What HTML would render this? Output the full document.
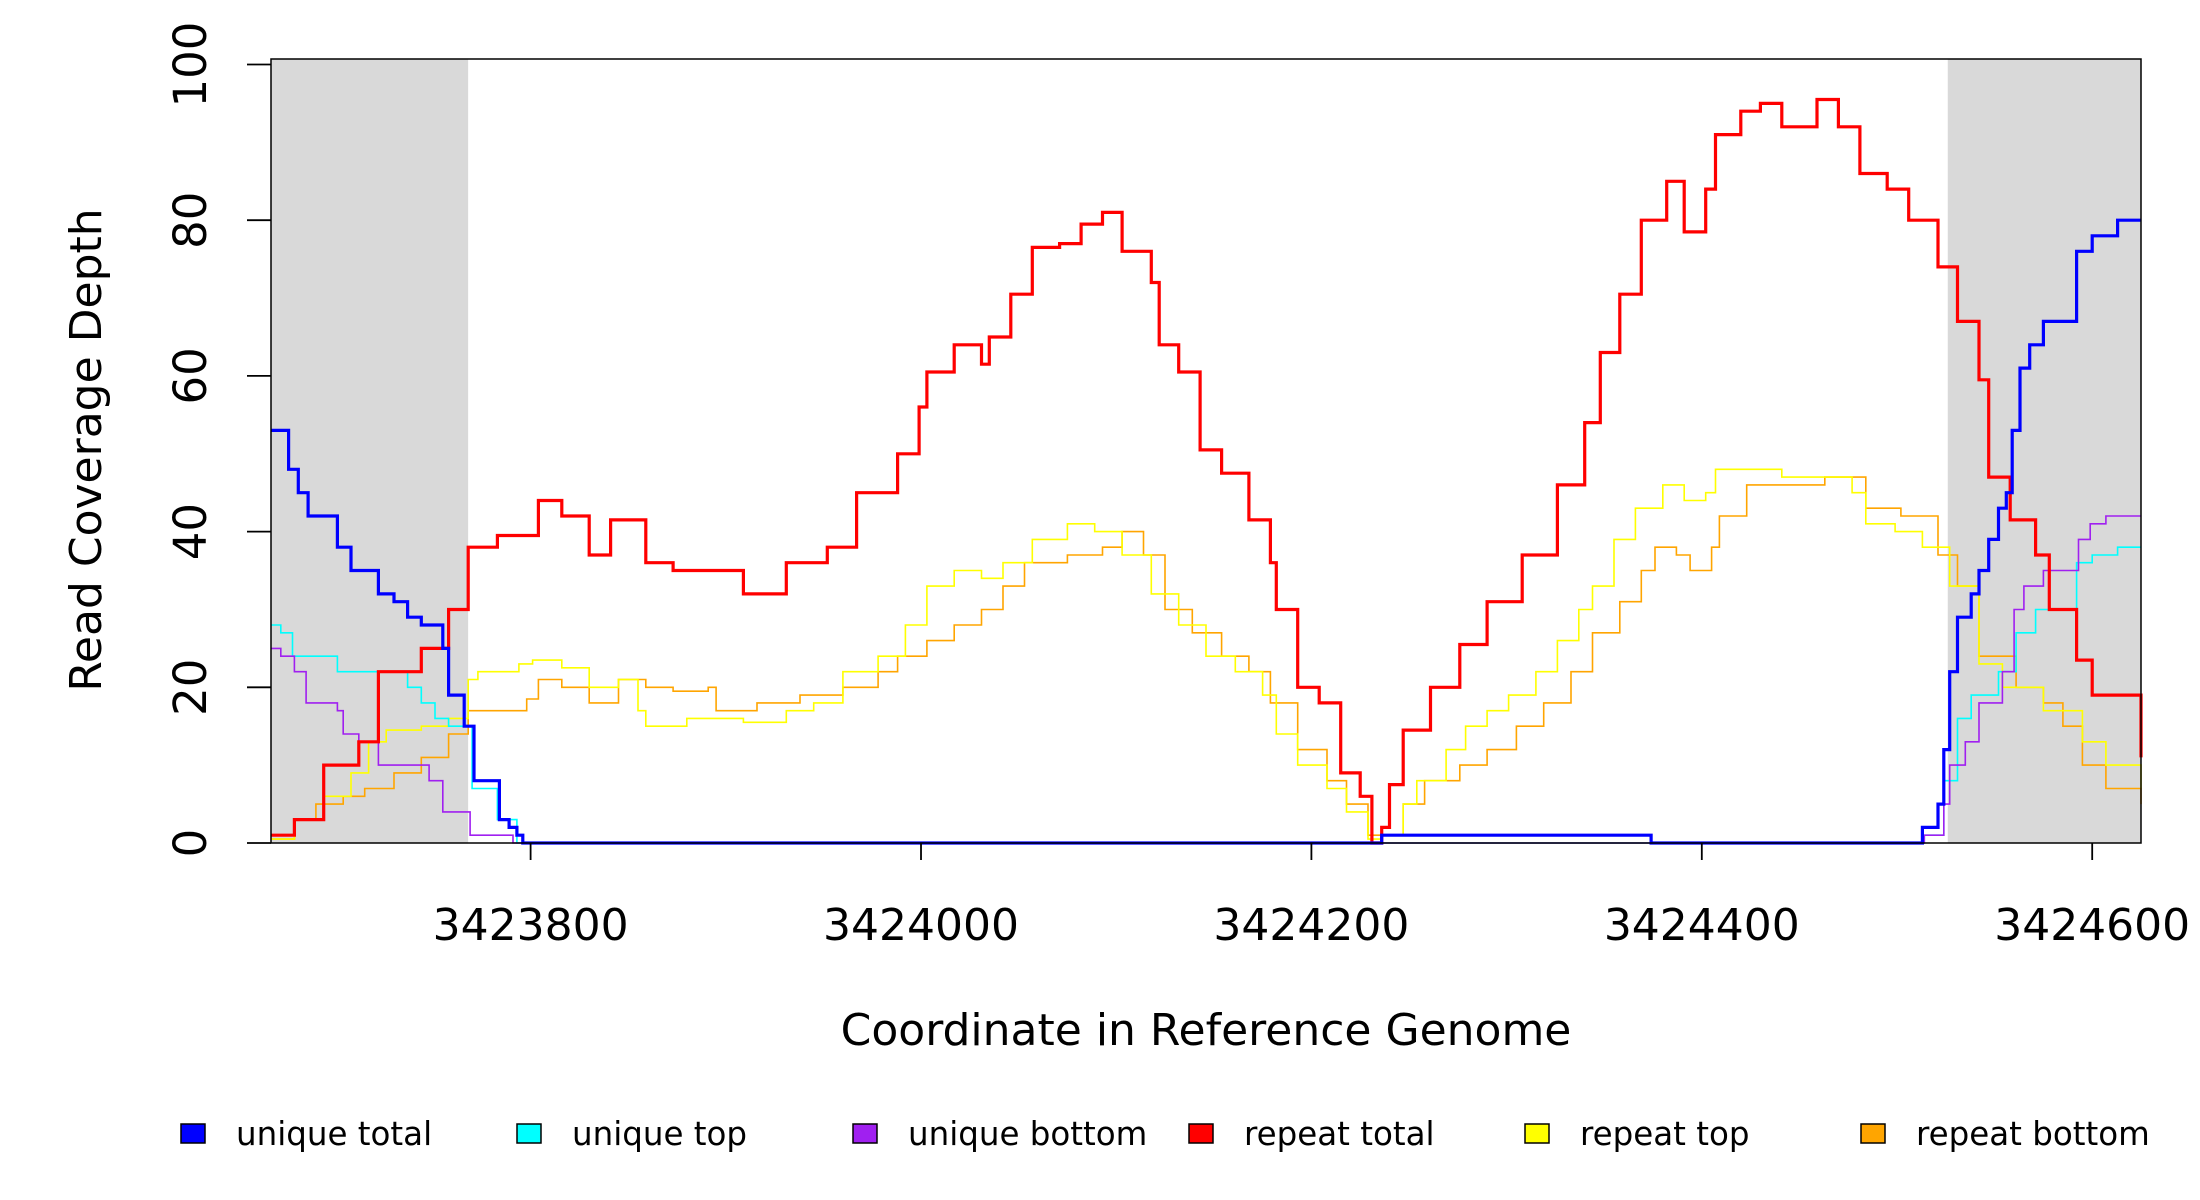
<!DOCTYPE html>
<html><head><meta charset="utf-8"><title>Read Coverage Depth</title>
<style>
html,body{margin:0;padding:0;background:#fff;}
svg{display:block;font-family:"DejaVu Sans","Liberation Sans",sans-serif;}
</style></head>
<body>
<svg id="chart" width="2200" height="1200" viewBox="0 0 2200 1200" xmlns="http://www.w3.org/2000/svg">
<g id="plot"></g>
</svg>
<script>
// ---- data ----
const BASE = 3423800;
const xTicks = [3423800, 3424000, 3424200, 3424400, 3424600];
const yTicks = [0, 20, 40, 60, 80, 100];
const maskedRegions = [[3423667, 3423768], [3424526, 3424625]];

const uniqueTotalPos = [-133,-124,-119,-114,-99,-92,-78,-70,-63,-56,-45,-42,-34,-29,-16,-11,-7,-4,436,574,713,721,724,727,731,738,742,747,752,756,759,763,768,775,792,800,813,825];
const uniqueTotalVal = [53,48,45,42,38,35,32,31,29,28,25,19,15,8,3,2,1,0,1,0,2,5,12,22,29,32,35,39,43,45,53,61,64,67,76,78,80,80];

const uniqueTopPos = [-133,-128,-122,-99,-81,-63,-56,-49,-42,-30,-17,-7,714,724,731,738,752,761,771,792,800,813,825];
const uniqueTopVal = [28,27,24,22,22,20,18,16,15,7,3,0,1,8,16,19,22,27,30,36,37,38,38];

const uniqueBottomPos = [-133,-128,-121,-115,-99,-96,-88,-78,-52,-45,-31,-9,714,724,727,735,742,754,760,765,775,793,799,807,825];
const uniqueBottomVal = [25,24,22,18,17,14,13,10,8,4,1,0,1,5,10,13,18,22,30,33,35,39,41,42,42];

const repeatTotalPos = [-133,-121,-106,-88,-78,-56,-42,-32,-17,4,16,30,41,50,59,73,91,109,131,152,167,181,188,199,203,217,231,235,246,257,271,282,293,303,318,322,332,343,354,368,379,382,393,404,415,425,431,436,440,447,461,476,490,508,526,540,548,558,569,582,591,602,607,620,630,641,659,670,681,695,706,721,731,742,747,758,771,778,792,800,825];
const repeatTotalVal = [1,3,10,13,22,25,30,38,39.5,44,42,37,41.5,41.5,36,35,35,32,36,38,45,45,50,56,60.5,64,61.5,65,70.5,76.5,77,79.5,81,76,72,64,60.5,50.5,47.5,41.5,36,30,20,18,9,6,0,2,7.5,14.5,20,25.5,31,37,46,54,63,70.5,80,85,78.5,84,91,94,95,92,95.5,92,86,84,80,74,67,59.5,47,41.5,37,30,23.5,19,11];

const repeatTopPos = [-133,-121,-106,-92,-83,-74,-56,-42,-32,-27,-6,1,16,30,45,55,59,80,95,109,131,145,160,178,192,203,217,231,242,257,275,289,303,318,332,346,361,375,382,393,408,418,429,436,447,454,469,479,490,501,515,526,537,544,555,566,580,591,602,607,620,641,663,677,684,699,713,727,742,754,775,795,807,825];
const repeatTopVal = [0.5,3,6,9,13,14.5,15,16,21,22,23,23.5,22.5,20,21,17,15,16,16,15.5,17,18,22,24,28,33,35,34,36,39,41,40,37,32,28,24,22,19,14,10,7,4,0.5,1,5,8,12,15,17,19,22,26,30,33,39,43,46,44,45,48,48,47,47,45,41,40,38,33,23,20,17,13,10,7];

const repeatBottomPos = [-133,-121,-110,-96,-85,-70,-56,-42,-32,-13,-2,4,16,30,45,59,73,91,95,116,138,160,178,188,203,217,231,242,253,275,293,303,314,325,339,354,368,379,393,408,418,429,436,447,458,476,490,505,519,533,544,558,569,576,587,594,605,609,623,648,663,684,702,721,731,742,761,775,785,795,807,825];
const repeatBottomVal = [0.5,3,5,6,7,9,11,14,17,17,18.5,21,20,18,21,20,19.5,20,17,18,19,20,22,24,26,28,30,33,36,37,38,40,37,30,27,24,22,18,12,8,5,1,1,5,8,10,12,15,18,22,27,31,35,38,37,35,38,42,46,46,47,43,42,37,33,24,20,18,15,10,7,5];

// ---- layout / axes ----
const NS = 'http://www.w3.org/2000/svg';
const svg = document.getElementById('chart');
const plot = document.getElementById('plot');
const L = 271, R = 2141, T = 59, B = 843;
const XMIN = 3423667, XMAX = 3424625;
const Y0PX = 843, Y100PX = 64.5;
function xs(v){ return L + (v - XMIN) / (XMAX - XMIN) * (R - L); }
function ys(v){ return Y0PX + (Y100PX - Y0PX) * v / 100; }
function mk(tag, attrs, parent){ const e = document.createElementNS(NS, tag); for (const k in attrs) e.setAttribute(k, attrs[k]); (parent||svg).appendChild(e); return e; }

maskedRegions.forEach(function(r, i){
  const rect = mk('rect', {x: xs(r[0]), y: T, width: xs(r[1]) - xs(r[0]), height: B - T, fill: '#d9d9d9'}, plot);
  
  
});

function drawStep(pos, val, color, width, name){
  let d = '';
  for (let i = 0; i < pos.length; i++){
    const x = xs(BASE + pos[i]).toFixed(1), y = ys(val[i]).toFixed(1);
    if (i === 0) d += 'M' + x + ' ' + y;
    else d += ' H' + x + ' V' + y;
  }
  const p = mk('path', {d: d, fill: 'none', stroke: color, 'stroke-width': width, 'stroke-linejoin': 'miter'}, plot);
  
  
}
drawStep(repeatBottomPos, repeatBottomVal, '#ffa500', 1.6, 'repeat-bottom-line');
drawStep(repeatTopPos, repeatTopVal, '#ffff00', 1.6, 'repeat-top-line');
drawStep(uniqueTopPos, uniqueTopVal, '#00ffff', 1.6, 'unique-top-line');
drawStep(uniqueBottomPos, uniqueBottomVal, '#a020f0', 1.6, 'unique-bottom-line');
drawStep(repeatTotalPos, repeatTotalVal, '#ff0000', 3.2, 'repeat-total-line');
drawStep(uniqueTotalPos, uniqueTotalVal, '#0000ff', 3.2, 'unique-total-line');

const box = mk('rect', {x: L, y: T, width: R - L, height: B - T, fill: 'none', stroke: '#000', 'stroke-width': 1.5});



xTicks.forEach(function(t){
  const x = xs(t);
  const tk = mk('line', {x1: x, x2: x, y1: B, y2: B + 17, stroke: '#000', 'stroke-width': 1.8});
  
  
  const lb = mk('text', {x: x, y: 940, 'font-size': 44, 'text-anchor': 'middle', fill: '#000'});
  lb.textContent = t;
  
  
});
yTicks.forEach(function(t){
  const y = ys(t);
  const tk = mk('line', {x1: 247, x2: L, y1: y, y2: y, stroke: '#000', 'stroke-width': 1.8});
  
  
  const lb = mk('text', {x: 0, y: 0, 'font-size': 45, 'text-anchor': 'middle', fill: '#000', transform: 'translate(206,' + y + ') rotate(-90)'});
  lb.textContent = t;
  
  
});

const xt = mk('text', {x: 1206, y: 1045, 'font-size': 44, 'text-anchor': 'middle', fill: '#000'});
xt.textContent = 'Coordinate in Reference Genome';


const yt = mk('text', {x: 0, y: 0, 'font-size': 44, 'text-anchor': 'middle', fill: '#000', transform: 'translate(101,450) rotate(-90)'});
yt.textContent = 'Read Coverage Depth';



const legendLabels = ['unique total','unique top','unique bottom','repeat total','repeat top','repeat bottom'];
const legendColors = ['#0000ff','#00ffff','#a020f0','#ff0000','#ffff00','#ffa500'];
const legendX = [181, 517, 853, 1189, 1525, 1861];
legendLabels.forEach(function(lbl, i){
  const g = mk('g', {});
  
  
  const r = mk('rect', {x: legendX[i], y: 1124, width: 24, height: 19, fill: legendColors[i], stroke: '#000', 'stroke-width': 1.5}, g);
  
  
  const t = mk('text', {x: legendX[i] + 55, y: 1145, 'font-size': 32.5, fill: '#000'}, g);
  t.textContent = lbl;
  
  
});
</script>
</body></html>
